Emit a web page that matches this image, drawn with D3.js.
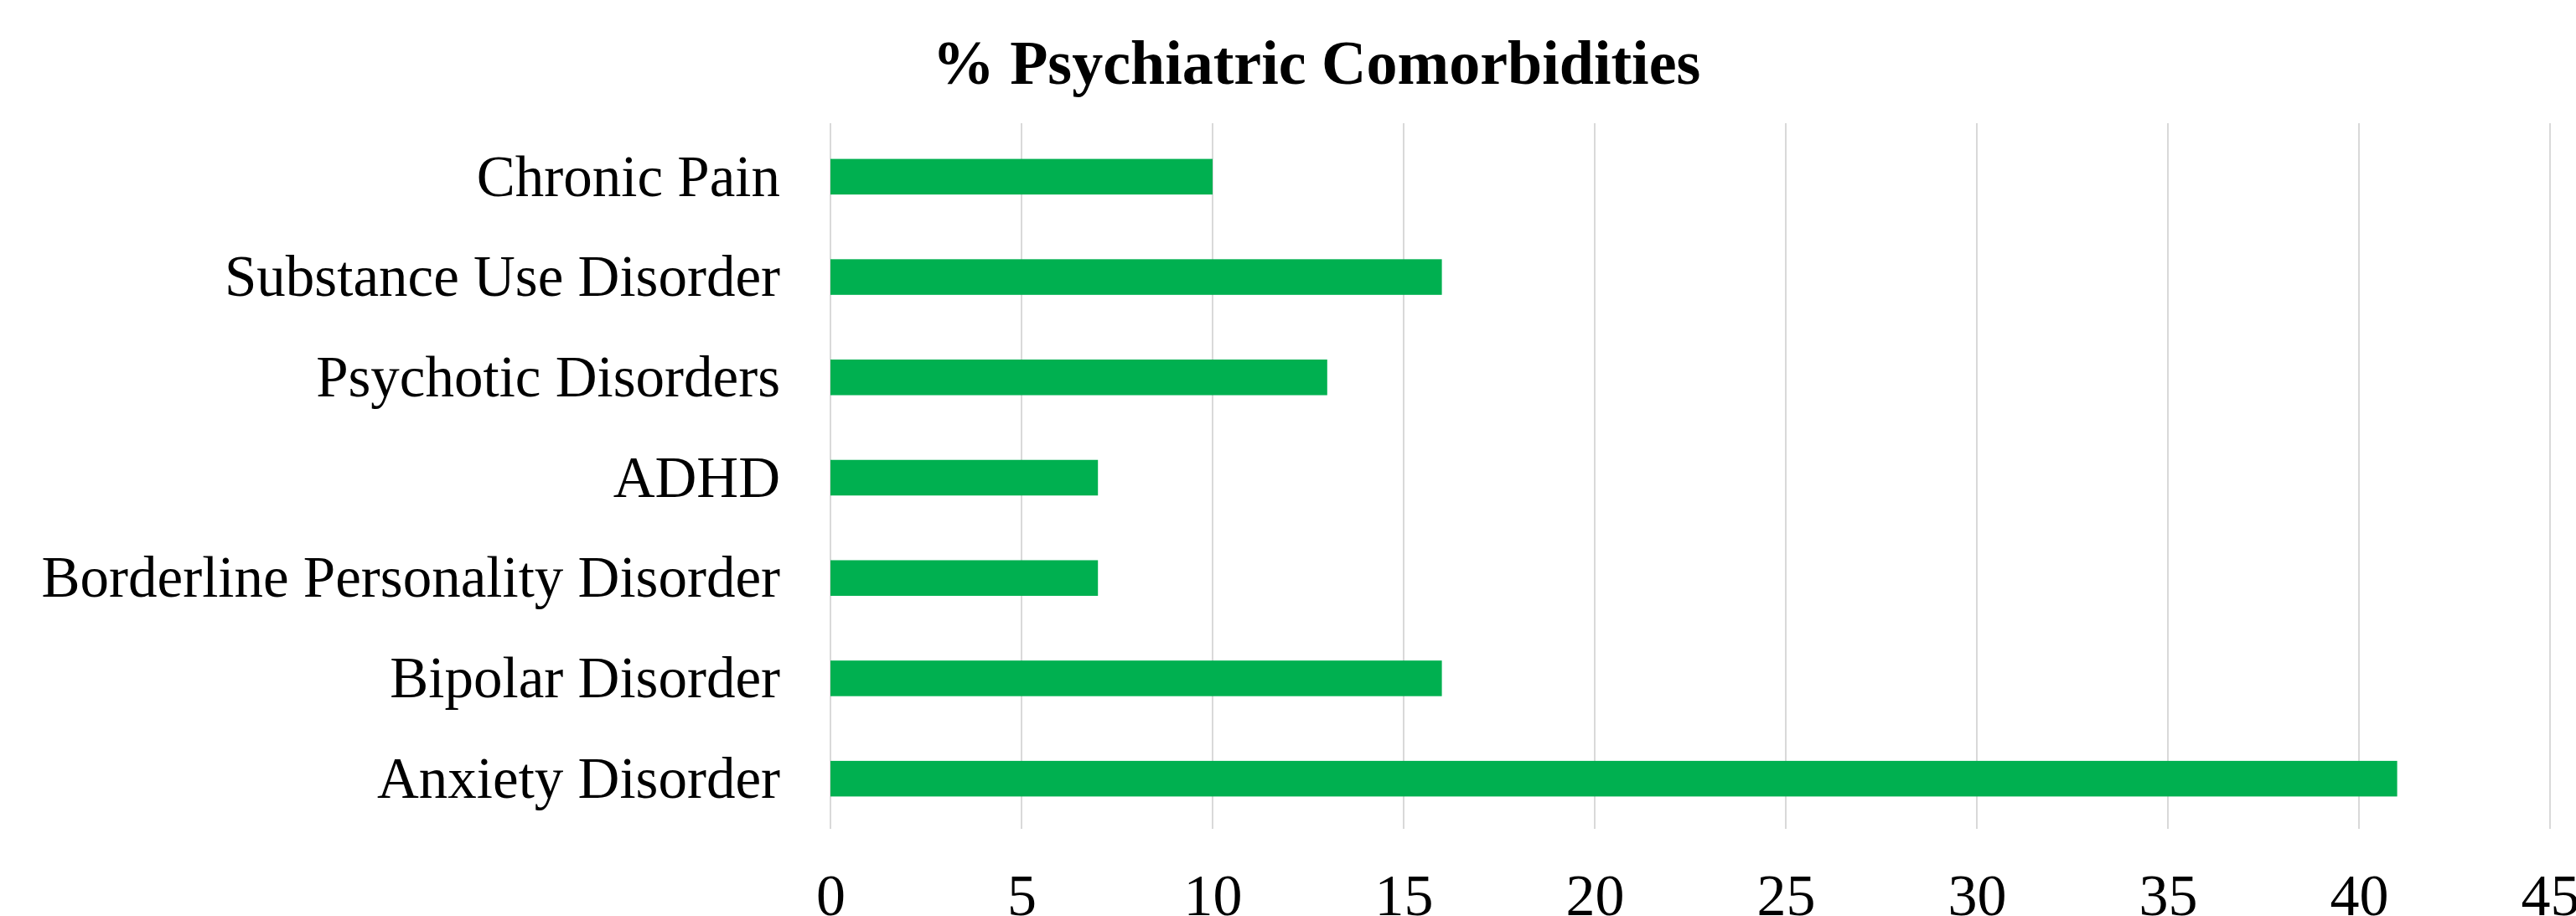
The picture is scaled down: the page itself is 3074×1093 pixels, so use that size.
<!DOCTYPE html>
<html>
<head>
<meta charset="utf-8">
<script src="https://cdn.jsdelivr.net/npm/d3@7"></script>
<style>
  html, body { margin: 0; padding: 0; background: #ffffff; }
  svg { display: block; }
</style>
</head>
<body>
<svg id="chart" width="3074" height="1093"></svg>
<script>
// Comorbidity categories, listed top to bottom
const categories = [
  "Chronic Pain",
  "Substance Use Disorder",
  "Psychotic Disorders",
  "ADHD",
  "Borderline Personality Disorder",
  "Bipolar Disorder",
  "Anxiety Disorder"
];
// Percentage of patients with each comorbidity
const percentValues = [10, 16, 13, 7, 7, 16, 41];
// Horizontal axis ticks
const xTicks = [0, 5, 10, 15, 20, 25, 30, 35, 40, 45];
const chartTitle = "% Psychiatric Comorbidities";

const rows = categories.map((c, i) => ({ name: c, value: percentValues[i] }));

const svg = d3.select("#chart");
const plot = { left: 991, right: 3043, top: 151, bottom: 989 };

const x = d3.scaleLinear().domain([0, 45]).range([plot.left, plot.right]);
const y = d3.scaleBand()
  .domain(categories)
  .range([plot.top, plot.bottom])
  .paddingInner(0.645)
  .paddingOuter(0.3225);

const font = "'Liberation Serif', 'Times New Roman', Times, serif";

// Vertical gridlines
svg.append("g")
  .selectAll("line")
  .data(xTicks)
  .join("line")
  .attr("x1", d => x(d)).attr("x2", d => x(d))
  .attr("y1", plot.top - 4).attr("y2", plot.bottom)
  .attr("stroke", "#d9d9d9")
  .attr("stroke-width", 2);

// Bars
svg.append("g")
  .selectAll("rect")
  .data(rows)
  .join("rect")
  .attr("x", x(0))
  .attr("y", d => y(d.name))
  .attr("width", d => x(d.value) - x(0))
  .attr("height", y.bandwidth())
  .attr("fill", "#00b050");

// Category labels
const yAxis = d3.axisLeft(y).tickSize(0).tickPadding(60);
const yg = svg.append("g")
  .attr("transform", `translate(${plot.left},0)`)
  .call(yAxis);
yg.select(".domain").remove();
yg.selectAll("text")
  .attr("font-family", font)
  .attr("font-size", 69)
  .attr("fill", "#000")
  .attr("dy", "0.33em");

// Value ticks along the bottom
const xAxis = d3.axisBottom(x).tickValues(xTicks).tickSize(0).tickPadding(0);
const xg = svg.append("g")
  .attr("transform", `translate(0,${plot.bottom})`)
  .call(xAxis);
xg.select(".domain").remove();
xg.selectAll("text")
  .attr("font-family", font)
  .attr("font-size", 70)
  .attr("fill", "#000")
  .attr("dy", null)
  .attr("y", 103);

// Title
svg.append("text")
  .attr("x", 1571)
  .attr("y", 100)
  .attr("text-anchor", "middle")
  .attr("font-family", font)
  .attr("font-weight", "bold")
  .attr("font-size", 74)
  .attr("fill", "#000")
  .text(chartTitle);
</script>
</body>
</html>
